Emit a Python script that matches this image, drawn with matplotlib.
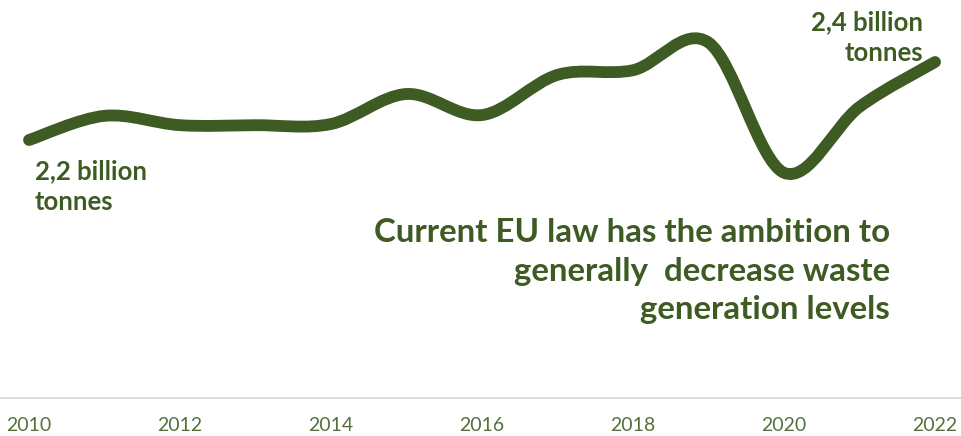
import matplotlib
matplotlib.use("Agg")
import matplotlib.pyplot as plt
from matplotlib.path import Path
from matplotlib.patches import PathPatch
import numpy as np

years = [2010, 2011, 2012, 2013, 2014, 2015, 2016, 2017, 2018, 2019, 2020, 2021, 2022]
waste = [2.200, 2.262, 2.238, 2.238, 2.241, 2.318, 2.264, 2.367, 2.379, 2.450, 2.116, 2.285, 2.400]
tick_years = [2010, 2012, 2014, 2016, 2018, 2020, 2022]
start_label = "2,2 billion\ntonnes"
end_label = "2,4 billion\ntonnes"
note = "Current EU law has the ambition to\ngenerally  decrease waste\ngeneration levels"

GREEN = "#3d5b23"
TICK = "#55703d"

plt.rcParams['font.family'] = ['Lato', 'DejaVu Sans']

fig = plt.figure(figsize=(9.61, 4.36), dpi=100)
ax = fig.add_axes([0, 38 / 436, 1, 398 / 436])
ax.set_xlim(2009.616, 2022.344)
ax.set_ylim(1.5385, 2.559)

# smoothed line (Catmull-Rom Bezier, like a spreadsheet "smoothed line")
x = np.array(years, dtype=float)
y = np.array(waste, dtype=float)
n = len(x)
verts = [(x[0], y[0])]
codes = [Path.MOVETO]
for i in range(n - 1):
    p0 = (x[i - 1], y[i - 1]) if i > 0 else (x[i], y[i])
    p1 = (x[i], y[i])
    p2 = (x[i + 1], y[i + 1])
    p3 = (x[i + 2], y[i + 2]) if i + 2 < n else (x[i + 1], y[i + 1])
    c1 = (p1[0] + (p2[0] - p0[0]) / 6, p1[1] + (p2[1] - p0[1]) / 6)
    c2 = (p2[0] - (p3[0] - p1[0]) / 6, p2[1] - (p3[1] - p1[1]) / 6)
    verts += [c1, c2, p2]
    codes += [Path.CURVE4] * 3
patch = PathPatch(Path(verts, codes), facecolor='none', edgecolor=GREEN,
                  linewidth=8.5, capstyle='round', joinstyle='round')
ax.add_patch(patch)

for s in ['top', 'left', 'right']:
    ax.spines[s].set_visible(False)
ax.spines['bottom'].set_color('#d9d9d9')
ax.spines['bottom'].set_linewidth(1.3)
ax.set_yticks([])
ax.set_xticks(tick_years)
ax.set_xticklabels([str(t) for t in tick_years], fontsize=14, color=TICK)
ax.tick_params(axis='x', length=0, pad=14)

ax.text(2010.08, 2.150, start_label, fontsize=18.5, fontweight='bold',
        color=GREEN, ha='left', va='top', linespacing=1.34)
ax.text(2021.841, 2.533, end_label, fontsize=18.5, fontweight='bold',
        color=GREEN, ha='right', va='top', linespacing=1.34, multialignment='right')
ax.text(2021.404, 2.000, note, fontsize=23.8, fontweight='bold', color=GREEN,
        ha='right', va='top', linespacing=1.40, multialignment='right')

fig.savefig("out.png", dpi=100)
